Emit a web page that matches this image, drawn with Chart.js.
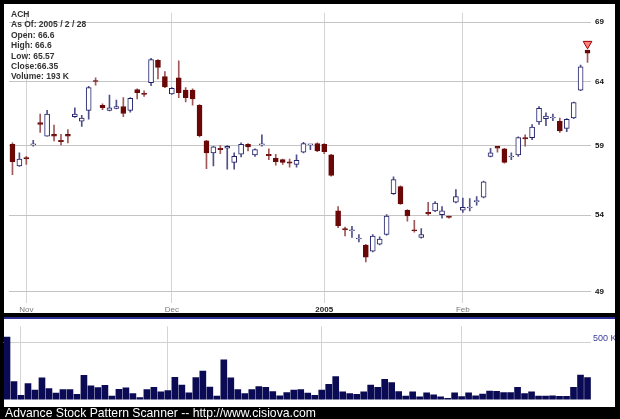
<!DOCTYPE html>
<html>
<head>
<meta charset="utf-8">
<script src="https://cdn.jsdelivr.net/npm/chart.js@4.4.0/dist/chart.umd.min.js"></script>
<style>
  html, body { margin: 0; padding: 0; background: #000; }
  #wrap { position: relative; width: 620px; height: 419px; overflow: hidden; background: #000; }
  #pricePanel { position: absolute; left: 4px; top: 4px; width: 611px; height: 309px; background: #fff; }
  #volPanel { position: absolute; left: 4px; top: 317px; width: 611px; height: 88px; background: #fff; border-top: 2px solid #2d2d96; }
  #priceBox { position: absolute; left: 3px; top: 4px; }
  #volBox { position: absolute; left: 3px; top: 319px; }
  #info { position: absolute; left: 11px; top: 9px; font: bold 8.5px "Liberation Sans", Arial, sans-serif; line-height: 10.4px; color: #333; }
  #footer { position: absolute; left: 5px; top: 407px; font: 12.2px "Liberation Sans", Arial, sans-serif; line-height: 12px; color: #fff; white-space: nowrap; }
</style>
</head>
<body>
<div id="wrap">
  <div id="pricePanel"></div>
  <div id="volPanel"></div>
  <div id="priceBox"><canvas id="price" width="612" height="309"></canvas></div>
  <div id="volBox"><canvas id="volume" width="612" height="88"></canvas></div>
  <div id="info">
    <div>ACH</div>
    <div>As Of: 2005 / 2 / 28</div>
    <div>Open: 66.6</div>
    <div>High: 66.6</div>
    <div>Low: 65.57</div>
    <div>Close:66.35</div>
    <div>Volume: 193 K</div>
  </div>
  <div id="footer">Advance Stock Pattern Scanner -- http://www.cisiova.com</div>
</div>
<script>
// trading days, Oct 28 2004 .. Feb 28 2005
const dates = [
  '10/28','10/29',
  '11/1','11/2','11/3','11/4','11/5','11/8','11/9','11/10','11/11','11/12','11/15','11/16','11/17','11/18','11/19','11/22','11/23','11/24','11/26','11/29','11/30',
  '12/1','12/2','12/3','12/6','12/7','12/8','12/9','12/10','12/13','12/14','12/15','12/16','12/17','12/20','12/21','12/22','12/23','12/27','12/28','12/29','12/30','12/31',
  '1/3','1/4','1/5','1/6','1/7','1/10','1/11','1/12','1/13','1/14','1/18','1/19','1/20','1/21','1/24','1/25','1/26','1/27','1/28','1/31',
  '2/1','2/2','2/3','2/4','2/7','2/8','2/9','2/10','2/11','2/14','2/15','2/16','2/17','2/18','2/22','2/23','2/24','2/25','2/28'
];

const open = [59.1,57.5,58.1,59.05,60.75,59.7,59.85,59.4,59.85,61.2, 60.85,61.7,64.05,62.1,61.7,61.85,62.0,61.7,63.35,63.05,
  63.9,65.75,64.4,63.0,64.3,63.3,63.3,62.1,59.35,58.45, 58.8,58.8,57.75,58.35,59.1,58.3,59.05,58.35,58.05,57.95,
  57.8,57.6,58.5,59.05,59.15,59.1,58.3,54.3,53.1,52.95, 52.4,52.0,51.6,52.05,52.7,55.5,56.0,54.35,53.0,52.5,
  54.2,54.3,54.05,53.95,54.9,54.35,54.5,54.95,55.25,58.2, 58.95,58.75,58.15,58.3,59.6,59.6,60.8,61.05,61.1,60.85,
  60.3,61.1,63.3,66.6];
const high = [59.2,58.45,58.2,59.4,61.4,61.7,60.55,59.85,60.2,61.9, 61.3,63.6,64.3,62.2,62.9,62.5,62.7,62.7,63.4,63.25,
  65.9,65.8,64.8,63.5,65.7,63.5,63.4,62.15,59.4,58.95, 59.0,59.0,58.45,59.2,59.15,58.75,59.8,58.75,58.35,58.0,
  58.0,58.3,59.25,59.1,59.2,59.15,58.35,54.6,53.2,53.25, 52.7,52.05,52.7,52.55,54.05,56.7,56.05,54.4,53.65,53.1,
  54.9,54.95,54.6,53.95,55.8,55.2,55.15,55.3,56.4,58.8, 58.95,58.8,58.45,59.65,59.8,60.6,62.0,61.5,61.4,61.1,
  61.05,62.35,65.35,66.6];
const low = [56.85,57.45,57.6,58.95,60.0,59.7,59.35,59.05,59.2,61.15, 60.45,61.0,63.7,61.75,61.65,61.8,61.2,61.55,62.6,62.8,
  63.65,64.2,63.5,62.95,62.7,62.35,62.1,59.65,57.3,57.5, 58.4,57.25,57.25,58.15,58.6,58.2,58.95,57.95,57.55,57.6,
  57.4,57.4,58.45,58.7,58.55,58.4,56.75,53.15,52.6,52.5, 52.2,50.9,51.55,52.0,52.65,55.45,54.75,53.6,52.85,52.45,
  54.0,54.25,53.8,53.8,54.85,54.2,54.3,54.7,55.2,58.15, 58.5,57.7,57.95,58.2,58.95,59.45,60.6,60.5,60.9,60.0,
  60.05,61.05,63.25,65.57];
const close = [57.8,58.0,58.0,59.1,60.6,61.4,59.7,59.3,59.7,61.4, 61.1,63.5,64.0,61.9,61.9,62.0,61.45,62.65,63.1,62.95,
  65.8,65.15,63.55,63.45,63.1,62.7,62.6,59.75,58.45,58.9, 58.7,58.95,58.2,59.1,58.9,58.7,59.1,58.25,57.8,57.75,
  57.7,57.9,59.15,59.1,58.6,58.55,56.8,53.3,53.0,53.0, 52.45,51.2,52.6,52.4,53.95,56.5,54.8,53.95,52.95,52.7,
  54.1,54.85,54.3,53.85,55.3,54.55,54.55,55.0,56.35,58.45, 58.8,57.75,58.2,59.6,59.5,60.4,61.85,61.25,61.15,60.1,
  61.0,62.3,65.2,66.35];
// volume in thousands
const volumeK = [544,158,37,139,83,190,97,56,88,88, 46,212,119,105,124,31,90,102,53,17,
  88,107,68,78,195,127,58,192,249,110, 31,346,190,88,53,88,114,107,70,32,
  61,83,88,56,37,83,134,200,68,53, 46,68,127,107,176,149,70,31,68,24,
  58,41,24,10,58,27,58,32,48,75, 73,61,61,107,53,68,30,30,32,28,
  28,107,214,192];

const tickDates = ['11/1','12/1','1/3','2/1'];
const tickLabels = ['Nov','Dec','2005','Feb'];
const priceTicks = [49,54,59,64,69];
const volumeTicks = [500];
const signalDates = ['2/28'];
const signalValues = [67.13];

const isUp = open.map((o, i) => close[i] >= o);
const bodies = open.map((o, i) => [o, close[i]]);
const wicks = low.map((l, i) => [l, high[i]]);
const signal = dates.map(d => { const k = signalDates.indexOf(d); return k < 0 ? null : signalValues[k]; });
const isMonth = i => tickDates.indexOf(dates[i]) >= 0;

Chart.defaults.font.family = '"Liberation Sans", Arial, sans-serif';
Chart.defaults.animation = false;

new Chart(document.getElementById('price'), {
  type: 'bar',
  data: {
    labels: dates,
    datasets: [{
      data: bodies,
      grouped: false,
      order: 1,
      barThickness: 5,
      minBarLength: 1,
      borderWidth: 1,
      borderSkipped: false,
      backgroundColor: isUp.map(u => u ? '#ffffff' : '#6a0808'),
      borderColor: isUp.map(u => u ? '#22226a' : '#6a0808')
    }, {
      data: wicks,
      grouped: false,
      order: 2,
      barThickness: 1,
      borderWidth: 0,
      backgroundColor: isUp.map(u => u ? '#50508a' : '#a05858')
    }, {
      type: 'line',
      data: signal,
      order: 0,
      showLine: false,
      pointStyle: 'triangle',
      rotation: 180,
      pointRadius: 5,
      backgroundColor: '#ff8080',
      borderColor: '#990000',
      borderWidth: 1
    }]
  },
  options: {
    responsive: false,
    layout: { padding: 0 },
    plugins: { legend: { display: false }, tooltip: { enabled: false } },
    scales: {
      x: {
        offset: true,
        grid: {
          offset: false,
          drawTicks: false,
          color: ctx => isMonth(ctx.index) ? '#d4d4d4' : 'rgba(0,0,0,0)'
        },
        border: { display: false },
        ticks: {
          autoSkip: false,
          maxRotation: 0,
          padding: 2,
          callback: (v, i) => { const k = tickDates.indexOf(dates[i]); return k < 0 ? '' : tickLabels[k]; },
          font: ctx => ({ size: 8, weight: dates[ctx.index] === '1/3' ? 'bold' : 'normal' }),
          color: ctx => dates[ctx.index] === '1/3' ? '#222' : '#777'
        },
        afterFit: s => { s.height = 10; }
      },
      y: {
        type: 'logarithmic',
        position: 'right',
        min: 48.31,
        max: 69.83,
        bounds: 'data',
        grid: { color: '#c4c4c4', drawTicks: false },
        border: { display: false },
        ticks: {
          padding: 4,
          color: '#111',
          font: { size: 8, weight: 'bold' },
          callback: v => String(v)
        },
        afterBuildTicks: s => { s.ticks = priceTicks.map(v => ({ value: v })); },
        afterFit: s => { s.width = 24; }
      }
    }
  }
});

new Chart(document.getElementById('volume'), {
  type: 'bar',
  data: {
    labels: dates,
    datasets: [{
      data: volumeK,
      barThickness: 6,
      borderWidth: 0,
      backgroundColor: '#0b0b55'
    }]
  },
  options: {
    responsive: false,
    layout: { padding: { left: 0.5 } },
    plugins: { legend: { display: false }, tooltip: { enabled: false } },
    scales: {
      x: {
        offset: true,
        grid: {
          offset: false,
          drawTicks: false,
          color: ctx => isMonth(ctx.index) ? '#d4d4d4' : 'rgba(0,0,0,0)'
        },
        border: { display: false },
        ticks: { display: false },
        afterFit: s => { s.height = 0; }
      },
      y: {
        position: 'right',
        min: 0,
        max: 637.7,
        grid: { color: '#d0d0d0', drawTicks: false },
        border: { display: false },
        ticks: {
          padding: 2,
          labelOffset: -4,
          color: '#3b3b9b',
          font: { size: 9 },
          callback: v => v + ' K'
        },
        afterBuildTicks: s => { s.ticks = volumeTicks.map(v => ({ value: v })); },
        afterFit: s => { s.width = 24; }
      }
    }
  }
});
</script>
</body>
</html>
